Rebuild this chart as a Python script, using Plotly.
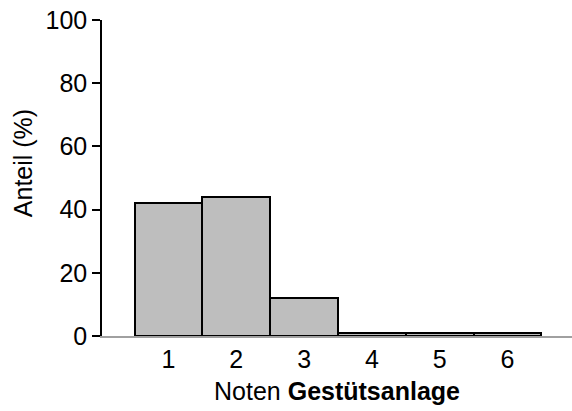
import plotly.graph_objects as go

categories = [1, 2, 3, 4, 5, 6]
values = [42, 44, 12, 1, 1, 1]
y_ticks = [0, 20, 40, 60, 80, 100]

FONT = "Arial, Liberation Sans, sans-serif"

fig = go.Figure(go.Bar(
    x=categories, y=values, width=1,
    marker=dict(color="#bebebe", line=dict(color="black", width=2)),
))

fig.update_layout(
    width=572, height=411,
    margin=dict(l=102, r=0, t=20, b=75),
    paper_bgcolor="white", plot_bgcolor="white",
    font=dict(family=FONT, size=25, color="black"),
    showlegend=False, bargap=0,
)
fig.update_xaxes(
    range=[0.02, 6.95], tickvals=categories, ticktext=[str(c) for c in categories],
    showline=True, linecolor="#a0a0a0", linewidth=1.5, ticks="", showgrid=False,
    zeroline=False, automargin=False, ticklabeloverflow="allow",
    title=dict(text="Noten <b>Gestütsanlage</b>", standoff=11, font=dict(size=25)),
)
fig.update_yaxes(
    range=[0, 100], tickvals=y_ticks, showline=True, linecolor="black", linewidth=1.5,
    ticks="outside", ticklen=8, tickwidth=1.5, tickcolor="black", showgrid=False,
    zeroline=False, automargin=False, ticklabeloverflow="allow",
)
# y-axis title placed as in the reference (slightly above the plot's centre)
fig.add_annotation(
    text="Anteil (%)", textangle=-90, xref="paper", yref="paper",
    x=-0.168, y=0.547, xanchor="center", yanchor="middle", showarrow=False,
    font=dict(size=25),
)

# remove the browser's default 8px body margin so the figure sits at (0, 0)
fig.write_html(
    "out.html",
    config={"displayModeBar": False},
    post_script="document.body.style.margin='0';document.documentElement.style.margin='0';",
)
